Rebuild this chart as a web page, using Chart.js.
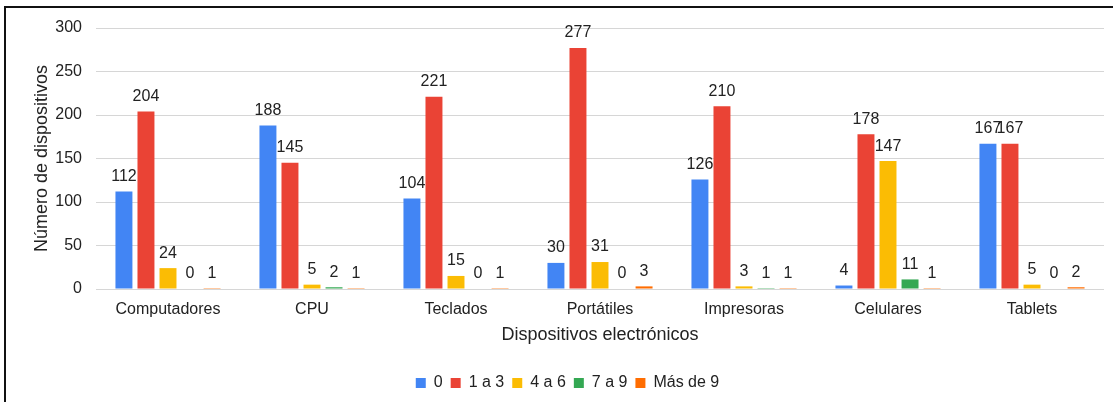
<!DOCTYPE html>
<html>
<head>
<meta charset="utf-8">
<script src="https://cdn.jsdelivr.net/npm/chart.js@4.4.1/dist/chart.umd.min.js"></script>
<style>
  html, body { margin: 0; padding: 0; background: #fff; }
  #wrap { position: relative; width: 1113px; height: 402px; overflow: hidden; }
  #frame { position: absolute; left: 4px; top: 6px; width: 1120px; height: 410px;
           border-left: 2px solid #111; border-top: 2px solid #111; pointer-events: none; }
  canvas { position: absolute; left: 0; top: 0; }
</style>
</head>
<body>
<div id="wrap">
  <canvas id="chart" width="1113" height="402"></canvas>
  <div id="frame"></div>
</div>
<script>
const categories = ['Computadores', 'CPU', 'Teclados', 'Portátiles', 'Impresoras', 'Celulares', 'Tablets'];
const seriesNames = ['0', '1 a 3', '4 a 6', '7 a 9', 'Más de 9'];
const seriesColors = ['#4285f4', '#ea4335', '#fbbc04', '#34a853', '#ff6d01'];

const cero = [112, 188, 104, 30, 126, 4, 167];
const unoATres = [204, 145, 221, 277, 210, 178, 167];
const cuatroASeis = [24, 5, 15, 31, 3, 147, 5];
const sieteANueve = [0, 2, 0, 0, 1, 11, 0];
const masDeNueve = [1, 1, 1, 3, 1, 1, 2];

const yTicks = [0, 50, 100, 150, 200, 250, 300];

const seriesValues = [cero, unoATres, cuatroASeis, sieteANueve, masDeNueve];

const FONT = '"Liberation Sans", Arial, sans-serif';

// value labels above every bar
const barLabels = {
    id: 'barLabels',
    afterDatasetsDraw(chart) {
        const ctx = chart.ctx;
        ctx.save();
        ctx.font = '16px ' + FONT;
        ctx.fillStyle = '#222';
        ctx.textAlign = 'center';
        ctx.textBaseline = 'bottom';
        chart.data.datasets.forEach((ds, i) => {
            chart.getDatasetMeta(i).data.forEach((bar, j) => {
                ctx.fillText(String(ds.data[j]), bar.x, bar.y - 7);
            });
        });
        ctx.restore();
    }
};

new Chart(document.getElementById('chart'), {
    type: 'bar',
    data: {
        labels: categories,
        datasets: seriesNames.map((name, i) => ({
            label: name,
            data: seriesValues[i],
            backgroundColor: seriesColors[i],
            categoryPercentage: 0.765,
            barPercentage: 0.77
        }))
    },
    options: {
        responsive: false,
        animation: false,
        layout: { padding: { left: 31, right: 9, top: 28, bottom: 1 } },
        plugins: {
            legend: {
                position: 'bottom',
                labels: {
                    boxWidth: 10,
                    boxHeight: 10,
                    padding: 8,
                    color: '#222',
                    font: { family: FONT, size: 16 }
                }
            },
            tooltip: { enabled: false }
        },
        scales: {
            x: {
                afterFit: (axis) => { axis.height = 78; },
                grid: { display: false },
                border: { display: false },
                ticks: { color: '#222', font: { family: FONT, size: 16 }, padding: 3 },
                title: {
                    display: true,
                    text: 'Dispositivos electrónicos',
                    color: '#222',
                    font: { family: FONT, size: 18 },
                    padding: { top: 0, bottom: 21 }
                }
            },
            y: {
                min: 0,
                max: 300,
                afterBuildTicks: (axis) => { axis.ticks = yTicks.map(v => ({ value: v })); },
                afterFit: (axis) => { axis.width = 65; },
                grid: { color: '#d6d6d6', drawTicks: false },
                border: { display: false },
                ticks: { color: '#222', font: { family: FONT, size: 16 }, padding: 14 },
                title: {
                    display: true,
                    text: 'Número de dispositivos',
                    color: '#222',
                    font: { family: FONT, size: 18 },
                    padding: { top: 0, bottom: 0 }
                }
            }
        }
    },
    plugins: [barLabels]
});
</script>
</body>
</html>
